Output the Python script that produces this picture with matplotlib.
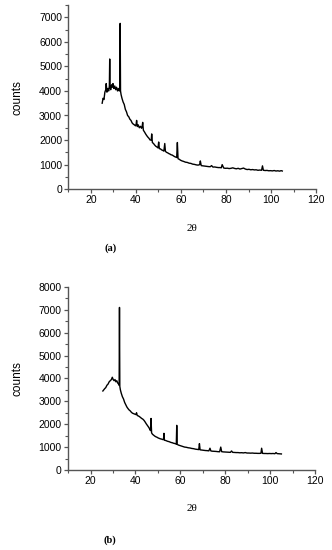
import matplotlib
matplotlib.use('Agg')
import matplotlib.pyplot as plt
from matplotlib.ticker import MultipleLocator

# pattern (a): 2theta vs counts
two_theta_a = [25.0, 25.4, 25.8, 26.2, 26.6, 26.8, 27.1, 27.5, 27.9, 28.2, 28.35, 28.5, 28.8, 29.2,
               29.5, 29.8, 30.2, 30.6, 31.0, 31.4, 31.8, 32.2, 32.6, 32.85, 33.0, 33.15, 33.4, 33.8,
               34.3, 34.8, 35.3, 35.8, 36.3, 36.8, 37.3, 37.8, 38.3, 38.8, 39.3, 39.8, 40.1, 40.3,
               40.6, 41.0, 41.5, 42.0, 42.5, 42.8, 43.0, 43.3, 43.8, 44.3, 44.8, 45.3, 45.8, 46.3,
               46.8, 47.0, 47.3, 47.8, 48.3, 48.8, 49.3, 49.8, 50.1, 50.4, 50.9, 51.4, 51.9, 52.4,
               52.8, 53.1, 53.6, 54.1, 54.6, 55.1, 55.6, 56.1, 56.6, 57.1, 57.6, 58.1, 58.4, 58.7,
               59.2, 59.8, 60.5, 61.2, 62.0, 62.8, 63.6, 64.4, 65.2, 66.0, 66.8, 67.6, 68.3, 68.6,
               69.0, 69.8, 70.6, 71.4, 72.2, 73.0, 73.6, 74.2, 75.0, 75.8, 76.6, 77.4, 77.9, 78.3,
               79.0, 79.8, 80.6, 81.4, 82.2, 83.0, 83.8, 84.6, 85.4, 86.2, 87.0, 87.8, 88.6, 89.4,
               90.2, 91.0, 91.8, 92.6, 93.4, 94.2, 95.0, 95.8, 96.2, 96.6, 97.4, 98.2, 99.0, 99.8,
               100.6, 101.4, 102.2, 103.0, 103.8, 104.5, 105.0]
counts_a = [3500, 3700, 3650, 3950, 4050, 4300, 3950, 4100, 4000, 4200, 5300, 4150, 4050, 4250,
            4150, 4300, 4100, 4200, 4050, 4150, 4000, 4100, 4000, 4050, 6750, 4000, 3850, 3700,
            3550, 3450, 3250, 3150, 3000, 2950, 2850, 2800, 2700, 2650, 2620, 2580, 2650, 2800,
            2550, 2620, 2500, 2560, 2480, 2580, 2720, 2400, 2330, 2250, 2180, 2120, 2070, 2000,
            2000, 2250, 1900, 1860, 1800, 1750, 1720, 1680, 1920, 1650, 1640, 1600, 1580, 1550,
            1860, 1540, 1500, 1480, 1450, 1430, 1400, 1390, 1360, 1330, 1310, 1290, 1900, 1240,
            1220, 1180, 1150, 1130, 1100, 1090, 1060, 1050, 1020, 1010, 990, 980, 1000, 1150,
            960, 950, 940, 930, 920, 915, 960, 900, 905, 890, 880, 880, 870, 1000,
            860, 850, 855, 840, 850, 870, 845, 830, 850, 820, 840, 860, 820, 800,
            810, 790, 800, 785, 790, 770, 780, 770, 950, 770, 760, 765, 750, 755,
            745, 760, 740, 750, 735, 755, 740]

# pattern (b)
two_theta_b = [25.5, 25.9, 26.3, 26.8, 27.3, 27.8, 28.3, 28.8, 29.3, 29.7, 30.1, 30.5, 30.9, 31.3,
               31.7, 32.1, 32.5, 32.75, 32.9, 33.05, 33.3, 33.7, 34.2, 34.7, 35.2, 35.7, 36.2, 36.7,
               37.2, 37.7, 38.2, 38.7, 39.2, 39.7, 40.2, 40.5, 40.8, 41.3, 41.8, 42.3, 42.8, 43.3,
               43.8, 44.3, 44.8, 45.3, 45.8, 46.3, 46.7, 46.95, 47.2, 47.6, 48.1, 48.6, 49.1, 49.6,
               50.1, 50.6, 51.1, 51.6, 52.1, 52.5, 52.7, 52.9, 53.4, 53.9, 54.4, 54.9, 55.4, 55.9,
               56.4, 56.9, 57.4, 57.9, 58.2, 58.4, 58.6, 59.1, 59.7, 60.4, 61.1, 61.9, 62.7, 63.5,
               64.3, 65.1, 65.9, 66.7, 67.5, 68.2, 68.5, 68.8, 69.5, 70.3, 71.1, 71.9, 72.7, 73.2,
               73.6, 74.3, 75.1, 75.9, 76.7, 77.5, 78.0, 78.4, 79.1, 79.9, 80.7, 81.5, 82.3, 82.8,
               83.3, 84.1, 84.9, 85.7, 86.5, 87.3, 88.1, 88.9, 89.7, 90.5, 91.3, 92.1, 92.9, 93.7,
               94.5, 95.3, 95.9, 96.2, 96.6, 97.3, 98.1, 98.9, 99.7, 100.5, 101.3, 102.1, 102.6,
               103.1, 103.8, 104.5, 105.0]
counts_b = [3450, 3500, 3550, 3600, 3700, 3750, 3850, 3900, 3950, 4050, 3950, 3900, 3950, 3850,
            3900, 3800, 3750, 3700, 7100, 3650, 3500, 3350, 3200, 3100, 2950, 2850, 2750, 2680,
            2620, 2580, 2520, 2480, 2460, 2440, 2420, 2500, 2380, 2360, 2330, 2290, 2250, 2220,
            2170, 2100, 2020, 1950, 1880, 1800, 1720, 2250, 1620, 1560, 1520, 1480, 1450, 1430,
            1400, 1380, 1360, 1350, 1330, 1330, 1600, 1300, 1290, 1270, 1250, 1240, 1220, 1200,
            1190, 1170, 1160, 1140, 1130, 1950, 1120, 1090, 1070, 1050, 1020, 1000, 990, 970,
            960, 940, 930, 910, 900, 890, 1150, 880, 870, 860, 850, 845, 835, 950,
            830, 820, 815, 810, 800, 795, 1000, 800, 790, 785, 780, 775, 770, 830,
            770, 765, 760, 760, 750, 755, 745, 760, 740, 740, 735, 740, 730, 730,
            725, 725, 730, 950, 725, 720, 720, 715, 720, 715, 720, 710, 760,
            715, 710, 705, 700]

panels = [(two_theta_a, counts_a, 7500, '(a)'),
          (two_theta_b, counts_b, 8000, '(b)')]

fig = plt.figure(figsize=(3.32, 5.5), dpi=100)
rects = [[0.206, 0.656, 0.746, 0.335], [0.205, 0.1455, 0.744, 0.333]]
label_pos = [(0.334, 0.549), (0.331, 0.018)]

for i in range(2):
    x, y, ytop, tag = panels[i]
    ax = fig.add_axes(rects[i])
    ax.plot(x, y, color='black', lw=1.0)
    ax.set_xlim(10, 120)
    ax.set_ylim(0, ytop)
    ax.xaxis.set_major_locator(MultipleLocator(20))
    ax.xaxis.set_minor_locator(MultipleLocator(10))
    ax.yaxis.set_major_locator(MultipleLocator(1000))
    ax.yaxis.set_minor_locator(MultipleLocator(500))
    ax.set_ylim(0, ytop)
    for side in ['top', 'right']:
        ax.spines[side].set_visible(False)
    for side in ['left', 'bottom']:
        ax.spines[side].set_color('#555555')
        ax.spines[side].set_linewidth(1.0)
    ax.tick_params(which='major', length=3, width=0.9, color='#555555', labelsize=7.5, pad=1.5)
    ax.tick_params(which='minor', length=2, width=0.8, color='#555555')
    for t in ax.get_xticklabels() + ax.get_yticklabels():
        t.set_family('Liberation Sans')
    ax.set_ylabel('counts', family='Liberation Sans', fontsize=8.5, labelpad=11)
    ax.set_xlabel('2θ', family='Liberation Serif', fontsize=8, labelpad=13)
    fig.text(label_pos[i][0], label_pos[i][1], tag, family='Liberation Serif',
             fontsize=7.5, fontweight='bold', ha='center', va='center')

fig.savefig('out.png', dpi=100)
